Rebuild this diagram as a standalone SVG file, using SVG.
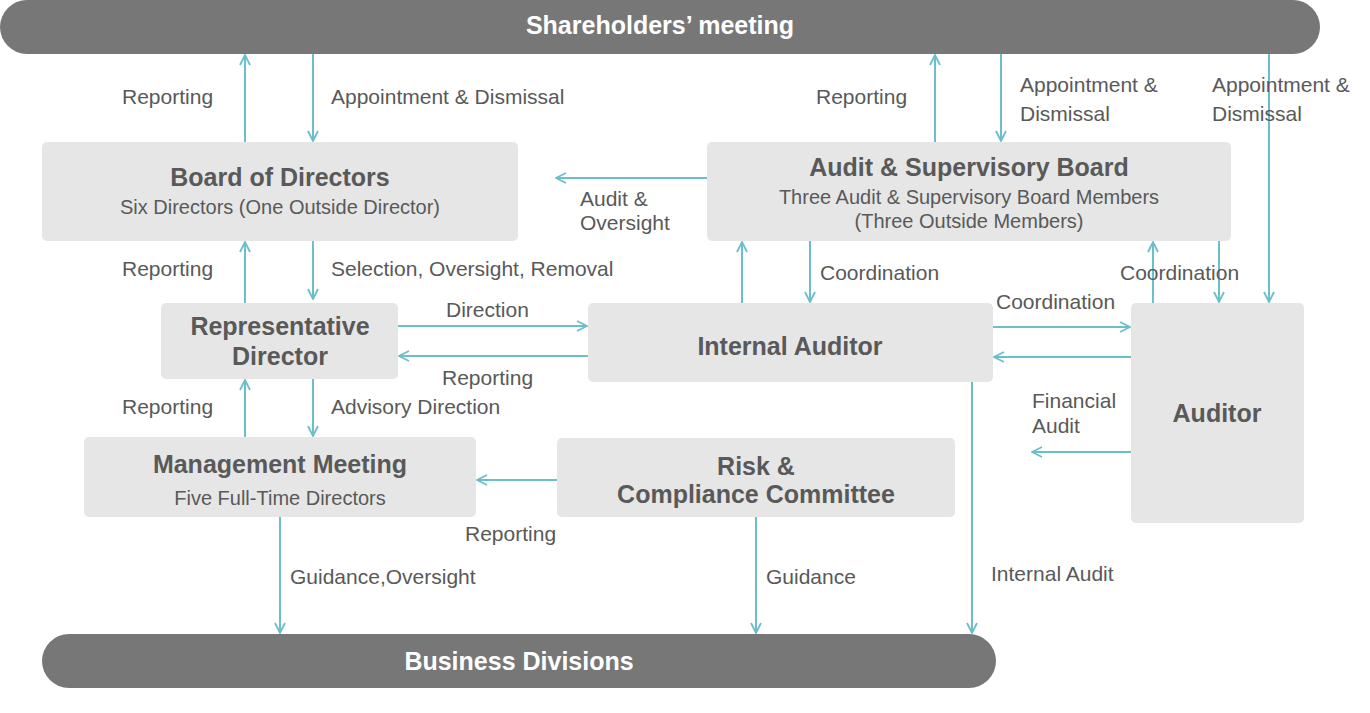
<svg xmlns="http://www.w3.org/2000/svg" width="1370" height="713" viewBox="0 0 1370 713">
<defs>
<marker id="a" viewBox="0 0 12 12" refX="11" refY="6" markerWidth="12" markerHeight="12" markerUnits="userSpaceOnUse" orient="auto"><path d="M1,1 L11,6 L1,11" fill="none" stroke="#6bbfcb" stroke-width="1.8"/></marker>
<style>
.pill{fill:#777}
.pt{fill:#fff;font:bold 25px "Liberation Sans",Arial,sans-serif;text-anchor:middle}
.box{fill:#e6e6e6}
.t{fill:#595959;font:bold 25px "Liberation Sans",Arial,sans-serif;text-anchor:middle}
.s{fill:#595959;font:20px "Liberation Sans",Arial,sans-serif;text-anchor:middle}
.l{fill:#595959;font:21px "Liberation Sans",Arial,sans-serif}
.c line{stroke:#6bbfcb;stroke-width:2;marker-end:url(#a)}
</style>
</defs>
<rect width="1370" height="713" fill="#fff"/>
<g id="shareholders"><rect class="pill" x="0" y="0" width="1320" height="54" rx="27"/><text class="pt" x="660" y="34">Shareholders’ meeting</text></g>
<g id="business"><rect class="pill" x="42" y="634" width="954" height="54" rx="27"/><text class="pt" x="519" y="670">Business Divisions</text></g>
<g id="board"><rect class="box" x="42" y="142" width="476" height="99" rx="5"/><text class="t" x="280" y="186">Board of Directors</text><text class="s" x="280" y="214">Six Directors (One Outside Director)</text></g>
<g id="asb"><rect class="box" x="707" y="142" width="524" height="99" rx="5"/><text class="t" x="969" y="176">Audit &amp; Supervisory Board</text><text class="s" x="969" y="204">Three Audit &amp; Supervisory Board Members</text><text class="s" x="969" y="228">(Three Outside Members)</text></g>
<g id="rep"><rect class="box" x="161" y="303" width="237" height="76" rx="5"/><text class="t" x="280" y="335">Representative</text><text class="t" x="280" y="365">Director</text></g>
<g id="ia"><rect class="box" x="588" y="303" width="405" height="79" rx="5"/><text class="t" x="790" y="355">Internal Auditor</text></g>
<g id="auditor"><rect class="box" x="1131" y="303" width="173" height="220" rx="5"/><text class="t" x="1217" y="422">Auditor</text></g>
<g id="mm"><rect class="box" x="84" y="437" width="392" height="80" rx="5"/><text class="t" x="280" y="473">Management Meeting</text><text class="s" x="280" y="505">Five Full-Time Directors</text></g>
<g id="risk"><rect class="box" x="557" y="438" width="398" height="79" rx="5"/><text class="t" x="756" y="475">Risk &amp;</text><text class="t" x="756" y="503">Compliance Committee</text></g>
<g class="c" id="connectors">
<line x1="245" y1="142" x2="245" y2="55"/>
<line x1="313" y1="54" x2="313" y2="141"/>
<line x1="935" y1="142" x2="935" y2="55"/>
<line x1="1001" y1="54" x2="1001" y2="141"/>
<line x1="1269" y1="54" x2="1269" y2="302"/>
<line x1="707" y1="178" x2="556" y2="178"/>
<line x1="245" y1="303" x2="245" y2="242"/>
<line x1="313" y1="241" x2="313" y2="299"/>
<line x1="742" y1="303" x2="742" y2="242"/>
<line x1="810" y1="241" x2="810" y2="302"/>
<line x1="1153" y1="303" x2="1153" y2="242"/>
<line x1="1219" y1="241" x2="1219" y2="302"/>
<line x1="398" y1="326" x2="587" y2="326"/>
<line x1="588" y1="356" x2="399" y2="356"/>
<line x1="993" y1="327" x2="1130" y2="327"/>
<line x1="1131" y1="357" x2="994" y2="357"/>
<line x1="1131" y1="452" x2="1032" y2="452"/>
<line x1="245" y1="437" x2="245" y2="380"/>
<line x1="313" y1="379" x2="313" y2="436"/>
<line x1="557" y1="480" x2="477" y2="480"/>
<line x1="280" y1="517" x2="280" y2="633"/>
<line x1="756" y1="517" x2="756" y2="633"/>
<line x1="972" y1="382" x2="972" y2="633"/>
</g>
<g id="labels">
<text class="l" x="122" y="104">Reporting</text>
<text class="l" x="331" y="104">Appointment &amp; Dismissal</text>
<text class="l" x="816" y="104">Reporting</text>
<text class="l" x="1020" y="92">Appointment &amp;</text>
<text class="l" x="1020" y="121">Dismissal</text>
<text class="l" x="1212" y="92">Appointment &amp;</text>
<text class="l" x="1212" y="121">Dismissal</text>
<text class="l" x="580" y="206">Audit &amp;</text>
<text class="l" x="580" y="230">Oversight</text>
<text class="l" x="122" y="276">Reporting</text>
<text class="l" x="331" y="276">Selection, Oversight, Removal</text>
<text class="l" x="820" y="280">Coordination</text>
<text class="l" x="1120" y="280">Coordination</text>
<text class="l" x="446" y="317">Direction</text>
<text class="l" x="996" y="309">Coordination</text>
<text class="l" x="442" y="385">Reporting</text>
<text class="l" x="1032" y="408">Financial</text>
<text class="l" x="1032" y="433">Audit</text>
<text class="l" x="122" y="414">Reporting</text>
<text class="l" x="331" y="414">Advisory Direction</text>
<text class="l" x="465" y="541">Reporting</text>
<text class="l" x="290" y="584">Guidance,Oversight</text>
<text class="l" x="766" y="584">Guidance</text>
<text class="l" x="991" y="581">Internal Audit</text>
</g>
</svg>
